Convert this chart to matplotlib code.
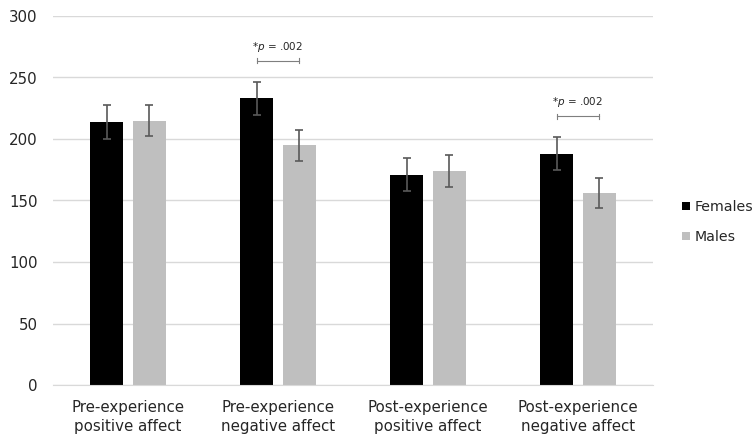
import numpy as np
import matplotlib.pyplot as plt

categories = ["Pre-experience\npositive affect", "Pre-experience\nnegative affect",
              "Post-experience\npositive affect", "Post-experience\nnegative affect"]
females = [214, 233, 171, 188]
males = [215, 195, 174, 156]
females_err = [14, 13.5, 13.5, 13.5]
males_err = [12.5, 12.5, 13, 12.5]
sig_groups = [1, 3]
sig_label = "*$p$ = .002"

plt.rcParams['font.family'] = ['DejaVu Sans']
text_col = '#262626'

fig = plt.figure(figsize=(7.54, 4.36), dpi=100)
ax = fig.add_axes([53 / 754, 51 / 436, 600 / 754, 369 / 436])

x = np.arange(len(categories))
w = 0.22
off = 0.142
ax.bar(x - off, females, w, color='black', label='Females', zorder=2)
ax.bar(x + off, males, w, color='#bfbfbf', label='Males', zorder=2)
ax.errorbar(x - off, females, yerr=females_err, fmt='none', ecolor='#595959',
            elinewidth=1.2, capsize=3, capthick=1.2, zorder=3)
ax.errorbar(x + off, males, yerr=males_err, fmt='none', ecolor='#595959',
            elinewidth=1.2, capsize=3, capthick=1.2, zorder=3)

for g in sig_groups:
    top = max(females[g] + females_err[g], males[g] + males_err[g])
    yb = top + 17
    ax.plot([g - off, g + off], [yb, yb], color='#7f7f7f', lw=0.8)
    ax.plot([g - off, g - off], [yb - 2, yb + 2], color='#7f7f7f', lw=0.8)
    ax.plot([g + off, g + off], [yb - 2, yb + 2], color='#7f7f7f', lw=0.8)
    ax.text(g, yb + 6, sig_label, ha='center', va='bottom', fontsize=7.5, color=text_col)

ax.set_xlim(-0.5, len(categories) - 0.5)
ax.set_ylim(0, 300)
ax.set_yticks(range(0, 301, 50))
ax.set_xticks(x)
ax.set_xticklabels(categories, fontsize=10.8, color=text_col, linespacing=1.35)
ax.tick_params(axis='y', labelsize=10.8, colors=text_col, length=0, pad=11)
ax.tick_params(axis='x', length=0, pad=11)
ax.grid(axis='y', color='#d9d9d9', lw=1, zorder=0)
ax.set_axisbelow(True)
for s in ['top', 'right', 'left']:
    ax.spines[s].set_visible(False)
ax.spines['bottom'].set_color('#d9d9d9')

leg = fig.legend(loc='center left', bbox_to_anchor=(682 / 754, 1 - 222 / 436), frameon=False,
                 fontsize=10.2, handlelength=0.55, handleheight=0.55, handletextpad=0.35,
                 labelspacing=1.1, borderpad=0, borderaxespad=0)
for t in leg.get_texts():
    t.set_color(text_col)

fig.savefig('out.png', dpi=100)
